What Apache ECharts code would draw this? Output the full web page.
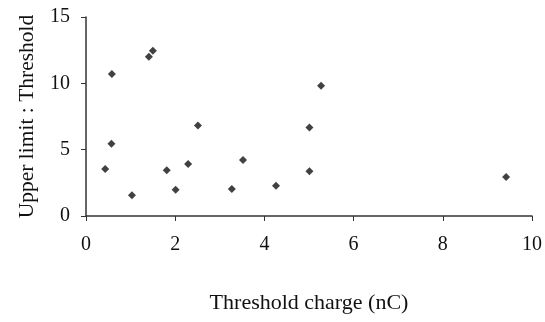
<!DOCTYPE html>
<html>
<head>
<meta charset="utf-8">
<script src="https://cdn.jsdelivr.net/npm/echarts@6/dist/echarts.min.js"></script>
<style>
	html, body { margin: 0; padding: 0; background: #fff; }
	#chart { width: 545px; height: 322px; }
</style>
</head>
<body>
<div id="chart"></div>
<script>
// threshold charge (nC) and upper limit : threshold
const thresholdCharge = [0.43, 0.58, 0.57, 1.03, 1.41, 1.5, 1.81, 2.01, 2.29, 2.51, 3.27, 3.52, 4.26, 5.01, 5.01, 5.27, 9.42];
const upperRatio = [3.54, 10.7, 5.45, 1.56, 12.0, 12.46, 3.44, 1.98, 3.92, 6.83, 2.03, 4.22, 2.28, 3.37, 6.68, 9.82, 2.94];

const points = thresholdCharge.map((x, i) => [x, upperRatio[i]]);

const serif = "'Liberation Serif', 'DejaVu Serif', serif";
const axisColor = "#333";

const chart = echarts.init(document.getElementById("chart"));
chart.setOption({
	animation: false,
	backgroundColor: "#fff",
	grid: {
		left: 86,
		right: 9,
		top: 17,
		bottom: 106
	},
	xAxis: {
		type: "value",
		min: 0,
		max: 10,
		interval: 2,
		name: "Threshold charge (nC)",
		nameLocation: "middle",
		nameGap: 76,
		nameTextStyle: { fontFamily: serif, fontSize: 22, color: "#111" },
		axisLine: { show: true, lineStyle: { color: axisColor, width: 1.5 } },
		axisTick: { show: true, length: 5, lineStyle: { color: axisColor } },
		axisLabel: { fontFamily: serif, fontSize: 20, color: "#111", margin: 19 },
		splitLine: { show: false }
	},
	yAxis: {
		type: "value",
		min: 0,
		max: 15,
		interval: 5,
		name: "Upper limit : Threshold",
		nameLocation: "middle",
		nameGap: 48,
		nameTextStyle: { fontFamily: serif, fontSize: 21.5, color: "#111" },
		axisLine: { show: true, lineStyle: { color: axisColor, width: 1.5 } },
		axisTick: { show: true, length: 5, lineStyle: { color: axisColor } },
		axisLabel: { fontFamily: serif, fontSize: 20, color: "#111", margin: 16 },
		splitLine: { show: false }
	},
	series: [
		{
			type: "scatter",
			symbol: "diamond",
			symbolSize: 8,
			itemStyle: { color: "#111" },
			data: points
		}
	]
});
</script>
</body>
</html>
